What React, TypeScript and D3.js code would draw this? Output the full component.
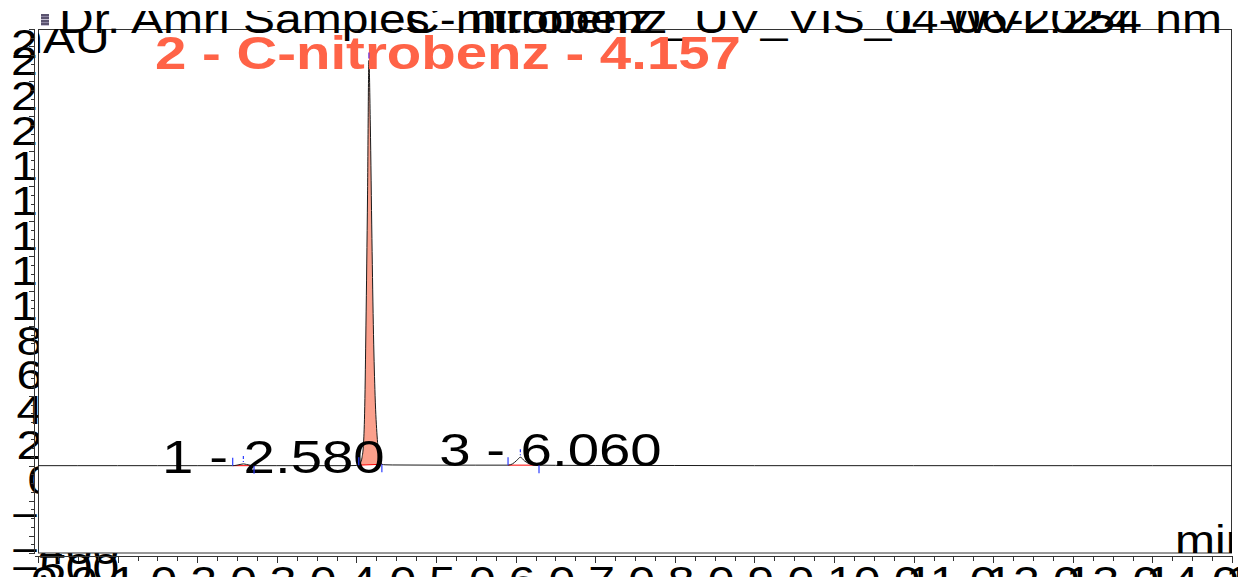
import React, { useEffect, useRef } from 'react';
import * as d3 from 'd3';

// Chromatogram trace: retention time (min) and absorbance (mAU)
const traceTime = [
  0.0, 0.5, 1.0, 1.5, 2.0, 2.4, 2.446, 2.5, 2.55, 2.58, 2.62, 2.67, 2.714, 3.0, 3.5, 3.9,
  4.0, 4.03, 4.05, 4.07, 4.09, 4.105, 4.12, 4.14, 4.157, 4.175, 4.195, 4.215, 4.235, 4.26,
  4.285, 4.305, 4.32, 4.36, 4.45, 5.0, 5.5, 5.905, 5.96, 6.01, 6.06, 6.11, 6.17, 6.23,
  6.294, 6.5, 7.0, 8.0, 9.0, 10.0, 11.0, 12.0, 13.0, 14.0, 15.0,
];
const traceMAU = [
  0, 0, 0, 0, 0, 0, 0, 3, 8, 10, 7, 2, 0, 0, 0, 0,
  1, 3, 14, 45, 130, 340, 800, 1550, 2320, 1950, 1300, 750, 400, 170,
  60, 22, 8, 5, 4, 3, 3, 3, 10, 28, 48, 28, 11, 5,
  3, 2, 1, 1, 0, 0, 0, 0, 0, 0, 0,
];

// Integrated peaks
const peakRT = [2.58, 4.157, 6.06];
const peakCompound = ['', 'C-nitrobenz', ''];
const peakStart = [2.446, 4.03, 5.905];
const peakEnd = [2.714, 4.32, 6.294];
const peakIdentified = [false, true, false];

// Axis ticks
const xTickValues = d3.range(0, 15.01, 1);
const xMinorTickValues = d3.range(0, 15.01, 0.25);
const yTickValues = [-500, -400, -200, 0, 200, 400, 600, 800, 1000, 1200, 1400, 1600, 1800, 2000, 2200, 2400, 2500];
const yMinorTickValues = d3.range(-500, 2501, 50);

// Header fields
const headerTexts = ['Dr. Amri Samples', 'C-nitrobenz', 'nitrobenz_UV_VIS_1', '04-06-2024'];
const headerRight = 'WVL:254 nm';
const yUnit = 'mAU';
const xUnit = 'min';

const FONT = "'Liberation Sans', Arial, Helvetica, sans-serif";
const W = 1238;
const H = 577;
const STRETCH = 1.2;

export default function App() {
  const ref = useRef<SVGSVGElement>(null);

  useEffect(() => {
    const svg = d3.select(ref.current);
    svg.selectAll('*').remove();

    const left = 38, right = 1232, top = 29, bottom = 553;
    const x = d3.scaleLinear().domain([0, 15]).range([left, right]);
    const y = d3.scaleLinear().domain([-500, 2500]).range([bottom, top]);

    const defs = svg.append('defs');
    defs.append('clipPath').attr('id', 'plotClip')
      .append('rect').attr('x', left).attr('y', top).attr('width', right - left).attr('height', bottom - top);
    defs.append('clipPath').attr('id', 'headClip')
      .append('rect').attr('x', 0).attr('y', 11).attr('width', W).attr('height', 120);

    svg.append('rect').attr('width', W).attr('height', H).attr('fill', '#fff');

    const stretched = (g: any, tx: number, ty: number, text: string, size: number, opts: any = {}) =>
      g.append('text')
        .attr('transform', `translate(${tx},${ty}) scale(${STRETCH},1)`)
        .attr('font-family', FONT)
        .attr('font-size', size)
        .attr('font-weight', opts.weight || 'normal')
        .attr('fill', opts.fill || '#000')
        .attr('text-anchor', opts.anchor || 'start')
        .text(text);

    // y tick labels, placed from narrow-font widths and covered by the plot area
    const narrowWidth = (s: string) => s.split('').reduce((w, c) => w + (c === '-' ? 3.3 : 5.5), 0);
    const yLab = svg.append('g');
    yTickValues.forEach(v => {
      const s = d3.format('d')(v);
      stretched(yLab, 33 - narrowWidth(s), y(v) + 28.6, s, 40);
    });

    // x tick labels
    const xLab = svg.append('g');
    xTickValues.forEach(v => {
      stretched(xLab, x(v) - 7, 595, d3.format('.1f')(v), 40);
    });

    // plot area
    svg.append('rect').attr('x', left).attr('y', top).attr('width', right - left).attr('height', bottom - top)
      .attr('fill', '#fff');

    const axes = svg.append('g').attr('stroke', '#333').attr('stroke-width', 1).attr('fill', 'none');
    axes.append('rect').attr('x', left + 0.5).attr('y', top + 0.5).attr('width', right - left - 1).attr('height', bottom - top - 0.5);
    axes.append('line').attr('x1', 34.5).attr('x2', 34.5).attr('y1', top).attr('y2', bottom + 1);
    axes.append('line').attr('x1', 35).attr('x2', right + 1).attr('y1', 556.5).attr('y2', 556.5);
    yMinorTickValues.forEach(v => {
      const major = v % 200 === 0 || v === 2500 || v === -500;
      const yy = Math.round(y(v)) + 0.5;
      axes.append('line').attr('x1', major ? 29 : 31).attr('x2', 34.5).attr('y1', yy).attr('y2', yy);
    });
    xMinorTickValues.forEach(v => {
      const major = Math.abs(v - Math.round(v)) < 1e-6;
      const xx = Math.round(x(v)) + 0.5;
      axes.append('line').attr('x1', xx).attr('x2', xx).attr('y1', 556.5).attr('y2', major ? 563 : 561);
    });

    // header
    const head = svg.append('g').attr('clip-path', 'url(#headClip)');
    const headX = [59, 405, 470, 885];
    headerTexts.forEach((t, i) => stretched(head, headX[i], 33, t, 40));
    stretched(head, 1222, 33, headerRight, 40, { anchor: 'end' });

    // small channel icon
    const icon = svg.append('g');
    icon.append('rect').attr('x', 41).attr('y', 14).attr('width', 8).attr('height', 12).attr('fill', '#5b5470');
    [16, 19, 22, 25].forEach((yy, i) =>
      icon.append('rect').attr('x', 41).attr('y', yy).attr('width', 8).attr('height', 1)
        .attr('fill', i % 2 ? '#c9c3d6' : '#8e86a3'));

    // axis units, inside the plot area
    const units = svg.append('g').attr('clip-path', 'url(#plotClip)');
    stretched(units, 3, 53, yUnit, 40);
    stretched(units, 1175, 554, xUnit, 40);

    // trace helpers
    const pts = traceTime.map((t, i) => [t, traceMAU[i]] as [number, number]);
    const valueAt = (t: number) => {
      const i = d3.bisector((d: [number, number]) => d[0]).left(pts, t);
      if (i <= 0) return pts[0][1];
      if (i >= pts.length) return pts[pts.length - 1][1];
      const [t0, v0] = pts[i - 1], [t1, v1] = pts[i];
      return t1 === t0 ? v1 : v0 + (v1 - v0) * (t - t0) / (t1 - t0);
    };

    const plot = svg.append('g').attr('clip-path', 'url(#plotClip)');

    // peak fills (identified compounds) and integration baselines
    peakRT.forEach((rt, i) => {
      const s = peakStart[i], e = peakEnd[i];
      const b0 = valueAt(s), b1 = valueAt(e);
      if (peakIdentified[i]) {
        const seg: [number, number][] = [[s, b0], ...pts.filter(p => p[0] > s && p[0] < e), [e, b1]];
        const base = (t: number) => b0 + (b1 - b0) * (t - s) / (e - s);
        const area = d3.area<[number, number]>()
          .x(d => x(d[0])).y0(d => y(base(d[0]))).y1(d => y(d[1]))
          .curve(d3.curveMonotoneX);
        plot.append('path').attr('d', area(seg)).attr('fill', '#fba08c').attr('stroke', 'none');
      }
      plot.append('line').attr('x1', x(s)).attr('x2', x(e)).attr('y1', y(b0)).attr('y2', y(b1))
        .attr('stroke', '#ff0000').attr('stroke-width', 1);
    });

    // signal
    const line = d3.line<[number, number]>().x(d => x(d[0])).y(d => y(d[1])).curve(d3.curveMonotoneX);
    plot.append('path').attr('d', line(pts)).attr('fill', 'none').attr('stroke', '#1a1a1a').attr('stroke-width', 1);

    // peak labels
    const labels = svg.append('g');
    peakRT.forEach((rt, i) => {
      const txt = `${i + 1} - ${peakCompound[i] ? peakCompound[i] + ' - ' : ''}${rt.toFixed(3)}`;
      const apexY = y(valueAt(rt));
      const node = stretched(labels, 0, apexY + 9, txt, 47, {
        weight: peakIdentified[i] ? 'bold' : 'normal',
        fill: peakIdentified[i] ? '#ff6347' : '#000',
      });
      const wdt = (node.node() as SVGTextElement).getComputedTextLength() * STRETCH;
      node.attr('transform', `translate(${x(rt) - 0.365 * wdt},${apexY + 9}) scale(${STRETCH},1)`);
    });

    // integration markers
    const marks = svg.append('g').attr('stroke', '#2b3cff').attr('stroke-width', 1.2);
    peakRT.forEach((rt, i) => {
      const xs = x(peakStart[i]), xe = x(peakEnd[i]), xa = x(rt);
      const ys = y(valueAt(peakStart[i])), ye = y(valueAt(peakEnd[i])), ya = y(valueAt(rt));
      marks.append('line').attr('x1', xs).attr('x2', xs).attr('y1', ys - 8).attr('y2', ys);
      marks.append('line').attr('x1', xe).attr('x2', xe).attr('y1', ye).attr('y2', ye + 8);
      marks.append('line').attr('x1', xa).attr('x2', xa).attr('y1', ya - 8).attr('y2', ya - 2)
        .attr('stroke', peakIdentified[i] ? '#6a2bd9' : '#2b3cff')
        .attr('stroke-dasharray', peakIdentified[i] ? null : '3,2');
    });
  }, []);

  return (
    <svg
      ref={ref}
      width={W}
      height={H}
      style={{ position: 'absolute', left: 0, top: 0, display: 'block', background: '#fff' }}
    />
  );
}
